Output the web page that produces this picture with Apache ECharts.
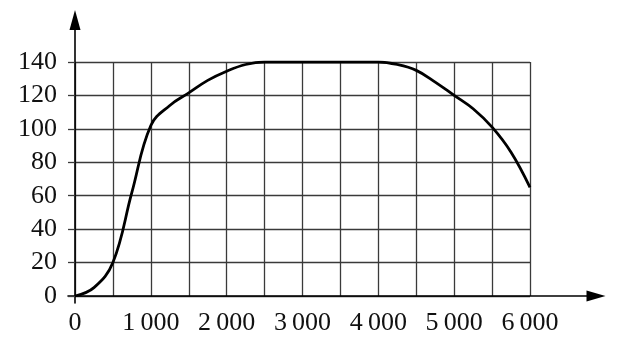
<!DOCTYPE html>
<html>
<head>
<meta charset="utf-8">
<script src="https://cdn.jsdelivr.net/npm/echarts@6/dist/echarts.min.js"></script>
<style>
html,body{margin:0;padding:0;background:#fff;}
#c{width:628px;height:348px;}
</style>
</head>
<body>
<div id="c"></div>
<script>
// ---- data ----
var xValues = [0, 250, 500, 750, 1000, 1250, 1500, 1750, 2000, 2250, 2500, 2750, 3000, 3250, 3500, 3750, 4000, 4250, 4500, 4750, 5000, 5250, 5500, 5750, 6000];
var yValues = [0, 5, 20, 62, 102, 114, 121.5, 129, 134.5, 138.5, 140, 140, 140, 140, 140, 140, 140, 138.5, 135, 128, 120, 112, 101, 86, 65];
var xTickValues = [0, 1000, 2000, 3000, 4000, 5000, 6000];
var xTickLabels = ['0', '1\u2009000', '2\u2009000', '3\u2009000', '4\u2009000', '5\u2009000', '6\u2009000'];
var yTickValues = [0, 20, 40, 60, 80, 100, 120, 140];
var yTickLabels = ['0', '20', '40', '60', '80', '100', '120', '140'];

var pts = xValues.map(function (x, i) { return [x, yValues[i]]; });
var font = "'Liberation Serif', 'Times New Roman', serif";
var gridColor = '#3a3a3a';

var chart = echarts.init(document.getElementById('c'), null, {renderer: 'canvas'});
chart.setOption({
  animation: false,
  backgroundColor: '#fff',
  grid: [
    {left: 75, top: 62, width: 455, height: 234, containLabel: false},
    {left: 68, top: 20, right: 32, bottom: 45, containLabel: false}
  ],
  xAxis: [
    {
      gridIndex: 0, type: 'value', min: 0, max: 6000, interval: 500,
      axisLine: {show: false},
      axisTick: {show: false},
      splitLine: {show: true, lineStyle: {color: gridColor, width: 1.3}},
      axisLabel: {
        margin: 14, color: '#111', fontFamily: font, fontSize: 26,
        formatter: function (v) {
          var i = xTickValues.indexOf(v);
          return i >= 0 ? xTickLabels[i] : '';
        }
      }
    },
    {
      gridIndex: 1, type: 'value', min: -7, max: 521,
      axisLine: {show: true, onZero: true, lineStyle: {color: '#000', width: 1.6},
        symbol: ['none', 'triangle'], symbolSize: [11, 19]},
      axisTick: {show: false}, axisLabel: {show: false}, splitLine: {show: false}
    }
  ],
  yAxis: [
    {
      gridIndex: 0, type: 'value', min: 0, max: 140, interval: 20,
      axisLine: {show: false},
      axisTick: {show: true, length: 7, lineStyle: {color: gridColor, width: 1.3}},
      splitLine: {show: true, lineStyle: {color: gridColor, width: 1.3}},
      axisLabel: {
        margin: 18, color: '#111', fontFamily: font, fontSize: 26,
        formatter: function (v) {
          var i = yTickValues.indexOf(v);
          return i >= 0 ? yTickLabels[i] : '';
        }
      }
    },
    {
      gridIndex: 1, type: 'value', min: -7, max: 276,
      axisLine: {show: true, onZero: true, lineStyle: {color: '#000', width: 1.6},
        symbol: ['none', 'triangle'], symbolSize: [11, 20]},
      axisTick: {show: false}, axisLabel: {show: false}, splitLine: {show: false}
    }
  ],
  series: [{
    type: 'line', xAxisIndex: 0, yAxisIndex: 0,
    data: pts, smooth: 0.4, showSymbol: false, symbol: 'none',
    lineStyle: {color: '#000', width: 2.8},
    z: 5
  }]
});
</script>
</body>
</html>
